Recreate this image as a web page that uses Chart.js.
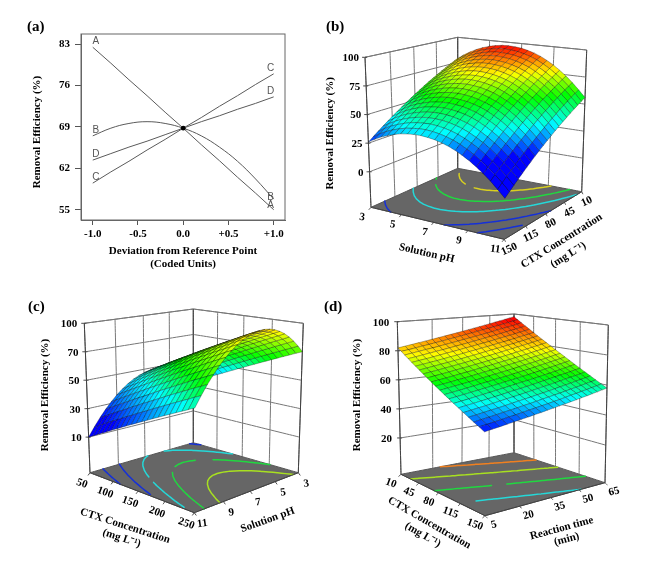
<!DOCTYPE html>
<html>
<head>
<meta charset="utf-8">
<title>Removal efficiency response surfaces</title>
<script src="https://cdn.jsdelivr.net/npm/chart.js@4/dist/chart.umd.js"></script>
<style>
html, body { margin: 0; background: #fff; }
#page { position: relative; width: 669px; height: 577px; overflow: hidden; }
canvas { position: absolute; }
</style>
</head>
<body>
<div id="page"></div>
<script>
// panel (a) perturbation plot
const devX = [-1, -0.8, -0.6, -0.4, -0.2, 0, 0.2, 0.4, 0.6, 0.8, 1];
const traceA = [82.5, 79.8, 77.0, 74.3, 71.5, 68.8, 66.0, 63.3, 60.5, 57.8, 55.0];
const traceB = [67.5, 68.8, 69.6, 69.9, 69.6, 68.8, 67.5, 65.6, 63.2, 60.2, 56.8];
const traceC = [59.5, 61.4, 63.2, 65.1, 66.9, 68.8, 70.6, 72.5, 74.3, 76.2, 78.0];
const traceD = [63.4, 64.5, 65.6, 66.6, 67.7, 68.8, 69.9, 70.9, 72.0, 73.0, 74.1];
const aYTicks = [55, 62, 69, 76, 83];
const aXTicks = [-1, -0.5, 0, 0.5, 1];
const aXLabels = ['-1.0', '-0.5', '0.0', '+0.5', '+1.0'];

// panel (b): rows CTX 150 -> 10, columns pH 3 -> 11
const bPhTicks = [3, 5, 7, 9, 11];
const bCtxTicks = [150, 115, 80, 45, 10];
const bZTicks = [0, 25, 50, 75, 100];
const bZ = [
[26.0,29.3,32.2,34.5,36.3,37.8,38.6,39.1,39.1,38.5,37.5,36.0,34.1,31.6,28.6,25.3,21.3,17.0,12.2,6.8,1.0],
[29.2,32.6,35.5,37.9,39.7,41.2,42.0,42.6,42.6,42.0,41.0,39.5,37.6,35.1,32.1,28.7,24.8,20.4,15.6,10.2,4.3],
[32.4,35.8,38.8,41.1,43.0,44.5,45.4,45.9,46.0,45.4,44.4,42.9,41.0,38.5,35.5,32.1,28.1,23.8,18.9,13.5,7.6],
[35.5,38.9,41.9,44.3,46.2,47.7,48.7,49.2,49.2,48.7,47.7,46.2,44.3,41.8,38.8,35.4,31.4,27.0,22.1,16.6,10.8],
[38.5,42.0,45.0,47.5,49.4,50.9,51.9,52.5,52.5,52.0,51.0,49.5,47.6,45.1,42.1,38.7,34.6,30.3,25.3,19.8,13.9],
[41.5,45.0,48.1,50.6,52.6,54.2,55.1,55.7,55.8,55.2,54.3,52.8,50.9,48.4,45.3,41.9,37.9,33.5,28.5,23.0,17.0],
[44.4,47.9,51.1,53.6,55.6,57.2,58.2,58.8,58.9,58.3,57.4,55.9,54.0,51.5,48.4,45.0,41.0,36.5,31.6,26.0,20.0],
[47.3,50.8,54.0,56.6,58.6,60.2,61.3,61.9,62.0,61.4,60.5,59.0,57.1,54.6,51.5,48.1,44.0,39.6,34.6,29.0,23.0],
[50.1,53.7,56.9,59.6,61.6,63.2,64.3,65.0,65.0,64.5,63.6,62.1,60.2,57.7,54.6,51.1,47.1,42.6,37.6,31.9,25.9],
[52.8,56.5,59.8,62.4,64.5,66.1,67.2,67.9,68.0,67.5,66.6,65.1,63.2,60.7,57.6,54.1,50.0,45.5,40.5,34.8,28.7],
[55.5,59.2,62.5,65.2,67.3,69.0,70.1,70.8,70.9,70.4,69.5,68.0,66.1,63.6,60.5,57.0,52.9,48.4,43.3,37.6,31.5],
[58.1,61.9,65.2,68.0,70.1,71.8,73.0,73.7,73.8,73.3,72.4,70.9,69.0,66.5,63.4,59.9,55.8,51.2,46.1,40.4,34.2],
[60.7,64.5,67.9,70.6,72.8,74.5,75.7,76.4,76.6,76.1,75.2,73.7,71.8,69.3,66.2,62.6,58.5,54.0,48.8,43.0,36.9],
[63.2,67.0,70.4,73.2,75.4,77.2,78.4,79.1,79.3,78.8,77.9,76.4,74.5,72.0,68.9,65.3,61.2,56.6,51.4,45.6,39.5],
[65.6,69.5,72.9,75.8,78.0,79.8,81.0,81.8,81.9,81.5,80.6,79.1,77.2,74.7,71.6,68.0,63.8,59.3,54.0,48.2,42.0],
[68.0,71.9,75.4,78.3,80.6,82.4,83.6,84.4,84.6,84.1,83.3,81.8,79.9,77.4,74.2,70.7,66.5,61.9,56.6,50.8,44.5],
[70.3,74.2,77.8,80.7,83.0,84.9,86.1,86.9,87.1,86.6,85.8,84.3,82.4,79.9,76.7,73.2,69.0,64.3,59.1,53.2,46.9],
[72.6,76.5,80.1,83.1,85.4,87.3,88.6,89.4,89.6,89.1,88.3,86.8,84.9,82.4,79.2,75.6,71.4,66.8,61.5,55.6,49.3],
[74.8,78.8,82.4,85.5,87.8,89.7,91.0,91.9,92.0,91.6,90.8,89.3,87.4,84.9,81.7,78.1,73.9,69.2,63.9,57.9,51.6],
[76.9,81.0,84.7,87.7,90.1,92.0,93.3,94.2,94.4,94.0,93.2,91.7,89.8,87.3,84.1,80.5,76.2,71.6,66.2,60.2,53.8],
[79.0,83.1,86.8,89.9,92.3,94.3,95.6,96.5,96.7,96.3,95.5,94.0,92.1,89.6,86.4,82.8,78.5,73.8,68.4,62.4,56.0]
];

// panel (c): rows pH 11 -> 3, columns CTX 50 -> 250
const cCtxTicks = [50, 100, 150, 200, 250];
const cPhTicks = [11, 9, 7, 5, 3];
const cZTicks = [10, 30, 50, 70, 90];
const cZLabels = ['10', '30', '50', '70', '100'];
const cZ = [
[10.0,12.0,14.0,16.0,18.0,20.0,22.0,24.0,26.0,28.0,30.0,32.0,34.0,36.0,38.0,40.0,42.0,44.0,46.0,48.0,50.0],
[16.1,18.1,20.2,22.2,24.2,26.2,28.3,30.3,32.3,34.4,36.4,38.4,40.5,42.5,44.5,46.6,48.6,50.6,52.6,54.7,56.7],
[21.7,23.7,25.8,27.8,29.9,31.9,34.0,36.1,38.1,40.2,42.2,44.3,46.3,48.4,50.5,52.5,54.6,56.6,58.7,60.7,62.8],
[26.7,28.8,30.9,33.0,35.0,37.1,39.2,41.3,43.3,45.4,47.5,49.6,51.7,53.7,55.8,57.9,60.0,62.1,64.1,66.2,68.3],
[31.2,33.3,35.4,37.5,39.6,41.7,43.8,45.9,48.0,50.1,52.2,54.3,56.4,58.5,60.6,62.7,64.8,66.9,69.0,71.1,73.2],
[35.3,37.4,39.5,41.6,43.7,45.8,47.9,50.0,52.2,54.3,56.4,58.5,60.6,62.7,64.8,66.9,69.0,71.2,73.3,75.4,77.5],
[38.7,40.9,43.0,45.1,47.2,49.4,51.5,53.6,55.7,57.8,60.0,62.1,64.2,66.3,68.5,70.6,72.7,74.8,76.9,79.1,81.2],
[41.7,43.8,46.0,48.1,50.2,52.4,54.5,56.6,58.7,60.9,63.0,65.1,67.3,69.4,71.5,73.6,75.8,77.9,80.0,82.2,84.3],
[44.2,46.3,48.4,50.6,52.7,54.8,57.0,59.1,61.2,63.4,65.5,67.6,69.7,71.9,74.0,76.1,78.3,80.4,82.5,84.7,86.8],
[46.1,48.2,50.4,52.5,54.6,56.7,58.9,61.0,63.1,65.3,67.4,69.5,71.7,73.8,75.9,78.1,80.2,82.3,84.4,86.6,88.7],
[47.5,49.6,51.8,53.9,56.0,58.1,60.3,62.4,64.5,66.6,68.8,70.9,73.0,75.1,77.3,79.4,81.5,83.6,85.8,87.9,90.0],
[48.4,50.5,52.6,54.7,56.9,59.0,61.1,63.2,65.3,67.4,69.6,71.7,73.8,75.9,78.0,80.1,82.2,84.4,86.5,88.6,90.7],
[48.8,50.9,53.0,55.1,57.2,59.3,61.4,63.5,65.6,67.7,69.8,71.9,74.0,76.1,78.2,80.3,82.4,84.5,86.6,88.7,90.8],
[48.6,50.7,52.8,54.9,56.9,59.0,61.1,63.2,65.3,67.4,69.5,71.5,73.6,75.7,77.8,79.9,82.0,84.0,86.1,88.2,90.3],
[47.9,50.0,52.1,54.1,56.2,58.2,60.3,62.4,64.4,66.5,68.6,70.6,72.7,74.8,76.8,78.9,81.0,83.0,85.1,87.1,89.2],
[46.8,48.8,50.8,52.9,54.9,57.0,59.0,61.0,63.1,65.1,67.1,69.2,71.2,73.2,75.3,77.3,79.4,81.4,83.4,85.5,87.5],
[45.0,47.0,49.1,51.1,53.1,55.1,57.1,59.1,61.1,63.1,65.1,67.1,69.1,71.1,73.2,75.2,77.2,79.2,81.2,83.2,85.2],
[42.8,44.8,46.8,48.7,50.7,52.7,54.7,56.6,58.6,60.6,62.6,64.5,66.5,68.5,70.5,72.4,74.4,76.4,78.4,80.3,82.3],
[40.1,42.0,43.9,45.9,47.8,49.7,51.7,53.6,55.6,57.5,59.4,61.4,63.3,65.2,67.2,69.1,71.0,73.0,74.9,76.9,78.8],
[36.8,38.7,40.6,42.5,44.4,46.3,48.2,50.1,52.0,53.8,55.7,57.6,59.5,61.4,63.3,65.2,67.1,69.0,70.9,72.8,74.7],
[33.0,34.9,36.7,38.6,40.4,42.3,44.1,46.0,47.8,49.7,51.5,53.4,55.2,57.1,58.9,60.8,62.6,64.5,66.3,68.2,70.0]
];

// panel (d): rows time 5 -> 65, columns CTX 10 -> 150
const dCtxTicks = [10, 45, 80, 115, 150];
const dTimeTicks = [5, 20, 35, 50, 65];
const dZTicks = [20, 40, 60, 80, 100];
const dZ = [
[82.0,80.2,78.3,76.5,74.6,72.8,70.9,69.1,67.2,65.4,63.5,61.7,59.8,58.0,56.1,54.3,52.4,50.6,48.7,46.9,45.0],
[82.8,80.9,79.1,77.2,75.4,73.5,71.7,69.8,68.0,66.1,64.2,62.4,60.5,58.7,56.8,55.0,53.1,51.2,49.4,47.5,45.7],
[83.6,81.7,79.9,78.0,76.1,74.3,72.4,70.5,68.7,66.8,64.9,63.1,61.2,59.4,57.5,55.6,53.8,51.9,50.0,48.2,46.3],
[84.4,82.5,80.7,78.8,76.9,75.0,73.2,71.3,69.4,67.5,65.7,63.8,61.9,60.1,58.2,56.3,54.4,52.6,50.7,48.8,47.0],
[85.2,83.3,81.4,79.6,77.7,75.8,73.9,72.0,70.2,68.3,66.4,64.5,62.6,60.8,58.9,57.0,55.1,53.2,51.4,49.5,47.6],
[86.0,84.1,82.2,80.3,78.5,76.6,74.7,72.8,70.9,69.0,67.1,65.2,63.4,61.5,59.6,57.7,55.8,53.9,52.0,50.1,48.3],
[86.8,84.9,83.0,81.1,79.2,77.3,75.4,73.5,71.6,69.7,67.9,66.0,64.1,62.2,60.3,58.4,56.5,54.6,52.7,50.8,48.9],
[87.6,85.7,83.8,81.9,80.0,78.1,76.2,74.3,72.4,70.5,68.6,66.7,64.8,62.9,61.0,59.1,57.2,55.3,53.4,51.5,49.6],
[88.4,86.5,84.6,82.7,80.8,78.9,76.9,75.0,73.1,71.2,69.3,67.4,65.5,63.6,61.7,59.8,57.8,55.9,54.0,52.1,50.2],
[89.2,87.3,85.4,83.4,81.5,79.6,77.7,75.8,73.9,71.9,70.0,68.1,66.2,64.3,62.4,60.4,58.5,56.6,54.7,52.8,50.9],
[90.0,88.1,86.2,84.2,82.3,80.4,78.5,76.5,74.6,72.7,70.8,68.8,66.9,65.0,63.1,61.1,59.2,57.3,55.4,53.4,51.5],
[90.8,88.9,86.9,85.0,83.1,81.1,79.2,77.3,75.3,73.4,71.5,69.5,67.6,65.7,63.7,61.8,59.9,57.9,56.0,54.1,52.2],
[91.6,89.7,87.7,85.8,83.8,81.9,80.0,78.0,76.1,74.1,72.2,70.3,68.3,66.4,64.4,62.5,60.6,58.6,56.7,54.7,52.8],
[92.4,90.5,88.5,86.6,84.6,82.7,80.7,78.8,76.8,74.9,72.9,71.0,69.0,67.1,65.1,63.2,61.2,59.3,57.3,55.4,53.5],
[93.2,91.2,89.3,87.3,85.4,83.4,81.5,79.5,77.6,75.6,73.6,71.7,69.7,67.8,65.8,63.9,61.9,60.0,58.0,56.1,54.1],
[94.0,92.0,90.1,88.1,86.2,84.2,82.2,80.3,78.3,76.3,74.4,72.4,70.5,68.5,66.5,64.6,62.6,60.6,58.7,56.7,54.8],
[94.8,92.8,90.9,88.9,86.9,84.9,83.0,81.0,79.0,77.1,75.1,73.1,71.2,69.2,67.2,65.3,63.3,61.3,59.3,57.4,55.4],
[95.6,93.6,91.6,89.7,87.7,85.7,83.7,81.8,79.8,77.8,75.8,73.8,71.9,69.9,67.9,65.9,64.0,62.0,60.0,58.0,56.1],
[96.4,94.4,92.4,90.4,88.5,86.5,84.5,82.5,80.5,78.5,76.6,74.6,72.6,70.6,68.6,66.6,64.6,62.7,60.7,58.7,56.7],
[97.2,95.2,93.2,91.2,89.2,87.2,85.2,83.3,81.3,79.3,77.3,75.3,73.3,71.3,69.3,67.3,65.3,63.3,61.3,59.3,57.4],
[98.0,96.0,94.0,92.0,90.0,88.0,86.0,84.0,82.0,80.0,78.0,76.0,74.0,72.0,70.0,68.0,66.0,64.0,62.0,60.0,58.0]
];

const SERIF = '"Liberation Serif", "Times New Roman", serif';
Chart.defaults.animation = false;

function addCanvas(box) {
    const c = document.createElement('canvas');
    c.width = box.w; c.height = box.h;
    c.style.left = box.x + 'px'; c.style.top = box.y + 'px';
    c.style.width = box.w + 'px'; c.style.height = box.h + 'px';
    document.getElementById('page').appendChild(c);
    return c;
}

// text drawn at page coordinates
function textPlugin(items) {
    return {
        id: 'pageText',
        afterDatasetsDraw(chart) {
            const ctx = chart.ctx;
            items.forEach(t => {
                ctx.save();
                ctx.translate(t.px !== undefined ? t.px : chart.scales.x.getPixelForValue(t.x),
                              t.py !== undefined ? t.py : chart.scales.y.getPixelForValue(t.y));
                ctx.rotate((t.rot || 0) * Math.PI / 180);
                ctx.font = t.font || 'bold 11px ' + SERIF;
                ctx.fillStyle = t.color || '#000';
                ctx.textAlign = t.align || 'center';
                ctx.textBaseline = 'middle';
                ctx.fillText(t.s, t.dx || 0, t.dy || 0);
                ctx.restore();
            });
        }
    };
}

// ---- panel (a)
function drawPanelA() {
    const box = { x: 0, y: 0, w: 310, h: 285 };
    const mk = (data, tension) => ({
        data: devX.map((x, i) => ({ x, y: data[i] })),
        showLine: true, borderColor: '#5a5a5a', borderWidth: 1, pointRadius: 0, tension: tension
    });
    const LET = '10px "Liberation Sans", sans-serif';
    const letters = [
        ['A', -1, traceA[0], 3, -6], ['B', -1, traceB[0], 3, -6], ['C', -1, traceC[0], 3, -6], ['D', -1, traceD[0], 3, -6],
        ['C', 1, traceC[10], -3, -6], ['D', 1, traceD[10], -3, -6], ['B', 1, traceB[10], -3, -2], ['A', 1, traceA[10], -3, -4]
    ].map(l => ({ s: l[0], x: l[1], y: l[2], dx: l[3], dy: l[4], font: LET, color: '#555' }));
    letters.push({ s: '(a)', px: 27, py: 27, align: 'left', font: 'bold 15px ' + SERIF });
    letters.push({ s: 'Removal Efficiency (%)', px: 37, py: 132, rot: -90, font: 'bold 11px ' + SERIF });

    new Chart(addCanvas(box), {
        type: 'scatter',
        data: { datasets: [
            { data: [{ x: 0, y: 68.8 }], pointRadius: 2.4, pointBackgroundColor: '#000', pointBorderWidth: 0 },
            mk(traceA, 0), mk(traceB, 0.4), mk(traceC, 0), mk(traceD, 0)
        ] },
        options: {
            responsive: false,
            layout: { padding: { top: 34, right: 25, left: 0, bottom: 0 } },
            plugins: { legend: { display: false }, tooltip: { enabled: false } },
            scales: {
                x: {
                    min: -1.13, max: 1.125,
                    afterBuildTicks: s => { s.ticks = aXTicks.map(value => ({ value })); },
                    afterFit: s => { s.height = 65; },
                    grid: { drawOnChartArea: false, color: '#555', tickLength: 5 },
                    border: { color: '#666' },
                    ticks: { callback: v => aXLabels[aXTicks.indexOf(v)], maxRotation: 0, color: '#000', padding: 3, font: { family: SERIF, weight: 'bold', size: 11 } },
                    title: { display: true, text: ['Deviation from Reference Point', '(Coded Units)'], color: '#000', padding: { top: 0, bottom: 15 }, font: { family: SERIF, weight: 'bold', size: 11, lineHeight: 1.15 } }
                },
                y: {
                    min: 53.26, max: 84.74,
                    afterBuildTicks: s => { s.ticks = aYTicks.map(value => ({ value })); },
                    afterFit: s => { s.width = 81; },
                    grid: { drawOnChartArea: false, color: '#555', tickLength: 6 },
                    border: { color: '#666' },
                    ticks: { color: '#000', padding: 5, font: { family: SERIF, weight: 'bold', size: 11 } }
                }
            }
        },
        plugins: [textPlugin(letters), {
            id: 'frame',
            afterDraw(chart) {
                const a = chart.chartArea, ctx = chart.ctx;
                ctx.save(); ctx.strokeStyle = '#666'; ctx.lineWidth = 1;
                ctx.strokeRect(a.left, a.top, a.right - a.left, a.bottom - a.top);
                ctx.restore();
            }
        }]
    });
}

// ---- 3d panels
// maps the unit square onto a quad given as (0,0), (1,0), (1,1), (0,1)
function quadMap(q) {
    const [p0, p1, p2, p3] = q;
    const dx1 = p1[0] - p2[0], dx2 = p3[0] - p2[0], sx = p0[0] - p1[0] + p2[0] - p3[0];
    const dy1 = p1[1] - p2[1], dy2 = p3[1] - p2[1], sy = p0[1] - p1[1] + p2[1] - p3[1];
    const det = dx1 * dy2 - dx2 * dy1;
    const g = (sx * dy2 - dx2 * sy) / det, h = (dx1 * sy - sx * dy1) / det;
    const a = p1[0] - p0[0] + g * p1[0], b = p3[0] - p0[0] + h * p3[0];
    const d = p1[1] - p0[1] + g * p1[1], e = p3[1] - p0[1] + h * p3[1];
    return (u, v) => {
        const w = g * u + h * v + 1;
        return [(a * u + b * v + p0[0]) / w, (d * u + e * v + p0[1]) / w];
    };
}

const BLUE = [0, 0, 255], CYAN = [0, 255, 255], GREEN = [0, 255, 0], YELLOW = [255, 255, 0], RED = [255, 0, 0];
const RAMP = [BLUE, CYAN, GREEN, YELLOW, RED];

function rampColor(z, stops) {
    if (z <= stops[0]) return 'rgb(0,0,255)';
    for (let i = 1; i < stops.length; i++) {
        if (z <= stops[i]) {
            const k = (z - stops[i - 1]) / (stops[i] - stops[i - 1]);
            const c = RAMP[i - 1].map((v, n) => Math.round(v + (RAMP[i][n] - v) * k));
            return `rgb(${c[0]},${c[1]},${c[2]})`;
        }
    }
    return 'rgb(255,0,0)';
}

function contourSegments(table, level) {
    const n = table.length - 1, segs = [];
    for (let j = 0; j < n; j++) {
        for (let i = 0; i < n; i++) {
            const a = table[j][i], b = table[j][i + 1], c = table[j + 1][i + 1], d = table[j + 1][i];
            const hits = [];
            if ((a - level) * (b - level) < 0) hits.push([i + (level - a) / (b - a), j]);
            if ((b - level) * (c - level) < 0) hits.push([i + 1, j + (level - b) / (c - b)]);
            if ((d - level) * (c - level) < 0) hits.push([i + (level - d) / (c - d), j + 1]);
            if ((a - level) * (d - level) < 0) hits.push([i, j + (level - a) / (d - a)]);
            if (hits.length >= 2) segs.push([hits[0], hits[1]]);
            if (hits.length === 4) segs.push([hits[2], hits[3]]);
        }
    }
    return segs.map(s => s.map(p => [p[0] / n, p[1] / n]));
}

function drawSurface(cfg) {
    const floorAt = quadMap(cfg.floor), topAt = quadMap(cfg.top);
    const at = (u, v, z) => {
        const f = floorAt(u, v), t = topAt(u, v), k = (z - cfg.zFloor) / (cfg.zTop - cfg.zFloor);
        return { x: f[0] + (t[0] - f[0]) * k, y: f[1] + (t[1] - f[1]) * k };
    };
    const GAP = { x: NaN, y: NaN };
    const sets = [];
    // tiny tension keeps chart.js off its fast line path, that one expects sorted x
    const poly = (pts, opts) => sets.push(Object.assign({ data: pts, showLine: true, pointRadius: 0, borderWidth: 1, tension: 0.0001, clip: false }, opts));

    // walls
    const wall = [];
    cfg.zTicks.forEach(z => wall.push(at(0, 0, z), at(0, 1, z), at(1, 1, z), GAP));
    wall.push(at(0, 0, cfg.zTop), at(0, 1, cfg.zTop), at(1, 1, cfg.zTop), GAP);
    cfg.vTicks.forEach(t => { const v = cfg.vPos(t); wall.push(at(0, v, cfg.zFloor), at(0, v, cfg.zTop), GAP); });
    cfg.uTicks.forEach(t => { const u = cfg.uPos(t); wall.push(at(u, 1, cfg.zFloor), at(u, 1, cfg.zTop), GAP); });
    poly(wall, { borderColor: '#777777' });

    // floor and its contours
    const fl = [at(0, 0, cfg.zFloor), at(1, 0, cfg.zFloor), at(1, 1, cfg.zFloor), at(0, 1, cfg.zFloor), at(0, 0, cfg.zFloor)];
    poly(fl, { fill: 'shape', backgroundColor: '#666666', borderColor: '#555' });
    cfg.levels.forEach((lv, n) => {
        const pts = [];
        contourSegments(cfg.table, lv).forEach(s => pts.push(at(s[0][0], s[0][1], cfg.zFloor), at(s[1][0], s[1][1], cfg.zFloor), GAP));
        poly(pts, { borderColor: cfg.levelColors[n], borderWidth: 1.5, borderCapStyle: 'round' });
    });

    // axis edges and tick marks
    const edge = [at(0, 0, cfg.zFloor), at(0, 0, cfg.zTop), GAP, at(1, 1, cfg.zFloor), at(1, 1, cfg.zTop), GAP, at(0, 1, cfg.zFloor), at(0, 1, cfg.zTop), GAP,
                  at(0, 0, cfg.zFloor), at(1, 0, cfg.zFloor), at(1, 1, cfg.zFloor)];
    cfg.zTicks.forEach(z => { const p = at(0, 0, z); edge.push(GAP, { x: p.x - 3, y: p.y }, { x: p.x + 2, y: p.y }); });
    cfg.uTicks.forEach(t => { const p = at(cfg.uPos(t), 0, cfg.zFloor); edge.push(GAP, p, { x: p.x + cfg.uLabel.dx * 0.25, y: p.y + cfg.uLabel.dy * 0.25 }); });
    cfg.vTicks.forEach(t => { const p = at(1, cfg.vPos(t), cfg.zFloor); edge.push(GAP, p, { x: p.x + cfg.vLabel.dx * 0.25, y: p.y + cfg.vLabel.dy * 0.25 }); });
    poly(edge, { borderColor: '#404040' });

    // surface cells, far corner first
    const n = cfg.table.length - 1;
    for (let i = 0; i < n; i++) {
        for (let j = n - 1; j >= 0; j--) {
            const t = cfg.table;
            const z00 = t[j][i], z10 = t[j][i + 1], z11 = t[j + 1][i + 1], z01 = t[j + 1][i];
            const p0 = at(i / n, j / n, z00);
            poly([p0, at((i + 1) / n, j / n, z10), at((i + 1) / n, (j + 1) / n, z11), at(i / n, (j + 1) / n, z01), p0], {
                fill: 'shape',
                backgroundColor: rampColor((z00 + z10 + z11 + z01) / 4, cfg.stops),
                borderColor: 'rgba(0,0,0,0.5)',
                borderWidth: 0.6
            });
        }
    }

    // labels
    const texts = cfg.texts.map(t => Object.assign({}, t));
    cfg.zTicks.forEach((z, i) => {
        const p = at(0, 0, z);
        texts.push({ s: String(cfg.zLabels[i]), x: p.x - cfg.zGap, y: p.y + 1, align: 'right' });
    });
    cfg.uTicks.forEach(t => {
        const p = at(cfg.uPos(t), 0, cfg.zFloor);
        texts.push({ s: String(t), x: p.x + cfg.uLabel.dx, y: p.y + cfg.uLabel.dy, rot: cfg.uLabel.rot });
    });
    cfg.vTicks.forEach(t => {
        const p = at(1, cfg.vPos(t), cfg.zFloor);
        texts.push({ s: String(t), x: p.x + cfg.vLabel.dx, y: p.y + cfg.vLabel.dy, rot: cfg.vLabel.rot });
    });

    const box = cfg.box;
    new Chart(addCanvas(box), {
        type: 'scatter',
        data: { datasets: sets.reverse() },   // first dataset is painted last
        options: {
            responsive: false,
            layout: { padding: 0 },
            plugins: { legend: { display: false }, tooltip: { enabled: false } },
            scales: {
                x: { display: false, min: box.x, max: box.x + box.w },
                y: { display: false, min: box.y, max: box.y + box.h, reverse: true }
            }
        },
        plugins: [textPlugin(texts)]
    });
}

const TITLE = 'bold 11px ' + SERIF, PANEL = 'bold 15px ' + SERIF;
const MGL = '(mg L\u207B\u00B9)';

drawPanelA();

drawSurface({
    box: { x: 310, y: 0, w: 359, h: 285 },
    table: bZ, zFloor: -31, zTop: 100, zTicks: bZTicks, zLabels: bZTicks, zGap: 6,
    floor: [[371, 207.3], [504.3, 239.3], [581.7, 191.7], [457.7, 168.3]],
    top: [[365, 57.3], [506.7, 71.7], [586.7, 50], [457.7, 37.3]],
    uTicks: bPhTicks, uPos: t => (t - 3) / 8, uLabel: { dx: -9, dy: 10, rot: 8 },
    vTicks: bCtxTicks, vPos: t => (150 - t) / 140, vLabel: { dx: 5, dy: 10, rot: -25 },
    levels: [20, 35, 53, 67, 81],
    levelColors: ['#1530d8', '#1530d8', '#25d8d8', '#20d840', '#d8d020'],
    stops: [24, 42, 60, 78, 97],
    texts: [
        { s: '(b)', x: 326, y: 27, align: 'left', font: PANEL },
        { s: 'Removal Efficiency (%)', x: 330, y: 133.3, rot: -90, font: TITLE },
        { s: 'Solution pH', x: 426.7, y: 253.3, rot: 13, font: TITLE },
        { s: 'CTX Concentration', x: 561.7, y: 241, rot: -32, font: TITLE },
        { s: MGL, x: 568.3, y: 255, rot: -32, font: TITLE }
    ]
});

drawSurface({
    box: { x: 0, y: 285, w: 320, h: 292 },
    table: cZ, zFloor: -15, zTop: 90, zTicks: cZTicks, zLabels: cZLabels, zGap: 7,
    floor: [[90, 472.7], [194.3, 512.7], [298.3, 472.7], [193.3, 442.7]],
    top: [[84.3, 323.3], [195, 343.7], [303.3, 323.3], [193.3, 309]],
    uTicks: cCtxTicks, uPos: t => (t - 50) / 200, uLabel: { dx: -8, dy: 11, rot: 20 },
    vTicks: cPhTicks, vPos: t => (11 - t) / 8, vLabel: { dx: 8, dy: 11, rot: -8 },
    levels: [23, 36, 48, 61, 75],
    levelColors: ['#1530d8', '#1530d8', '#25d8d8', '#20d840', '#a8e020'],
    stops: [22, 48, 63, 86, 110],
    texts: [
        { s: '(c)', x: 28, y: 307.3, align: 'left', font: PANEL },
        { s: 'Removal Efficiency (%)', x: 45, y: 395, rot: -90, font: TITLE },
        { s: 'CTX Concentration', x: 125, y: 526, rot: 18, font: TITLE },
        { s: MGL, x: 121.7, y: 538.3, rot: 18, font: TITLE },
        { s: 'Solution pH', x: 267.7, y: 520, rot: -20, font: TITLE }
    ]
});

drawSurface({
    box: { x: 320, y: 285, w: 349, h: 292 },
    table: dZ, zFloor: -5, zTop: 100, zTicks: dZTicks, zLabels: dZTicks, zGap: 8,
    floor: [[401, 474.3], [485, 515.7], [605, 482.7], [514, 452.7]],
    top: [[397.3, 321.7], [484, 339.7], [608.3, 325], [514, 314]],
    uTicks: dCtxTicks, uPos: t => (t - 10) / 140, uLabel: { dx: -10, dy: 9, rot: 20 },
    vTicks: dTimeTicks, vPos: t => (t - 5) / 60, vLabel: { dx: 9, dy: 9, rot: -15 },
    levels: [55, 65.5, 77, 87],
    levelColors: ['#25d8d8', '#20d840', '#a8e020', '#f08020'],
    stops: [45, 55, 65, 78, 96],
    texts: [
        { s: '(d)', x: 324, y: 307.3, align: 'left', font: PANEL },
        { s: 'Removal Efficiency (%)', x: 357.3, y: 395, rot: -90, font: TITLE },
        { s: 'CTX Concentration', x: 429.3, y: 523, rot: 30, font: TITLE },
        { s: MGL, x: 422.7, y: 535, rot: 30, font: TITLE },
        { s: 'Reaction time', x: 561.7, y: 528.3, rot: -15, font: TITLE },
        { s: '(min)', x: 566.7, y: 539.3, rot: -15, font: TITLE }
    ]
});
</script>
</body>
</html>
